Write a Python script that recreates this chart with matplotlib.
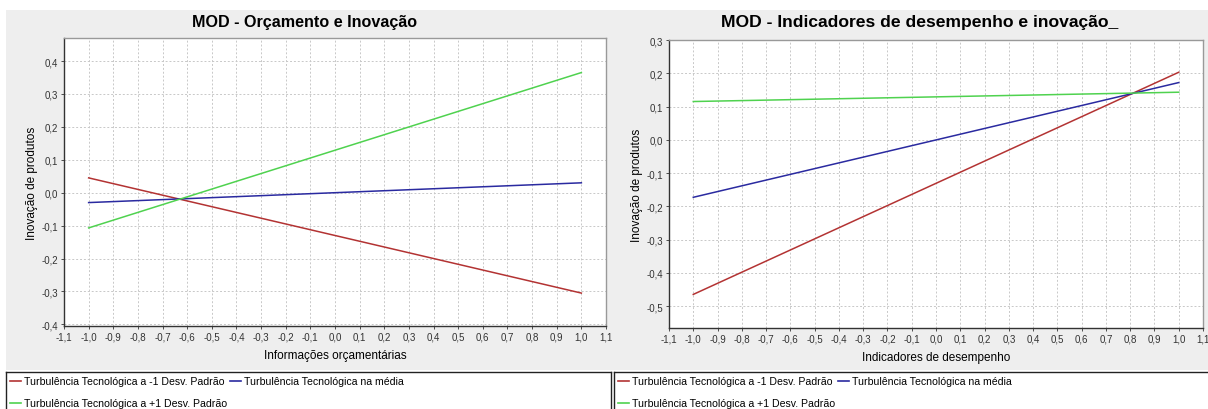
import matplotlib
matplotlib.use('Agg')
import matplotlib.pyplot as plt
from matplotlib.ticker import MultipleLocator, FuncFormatter
import numpy as np

plt.rcParams['font.family'] = ['Liberation Sans', 'DejaVu Sans']

# data: x = -1 and x = 1
x_pts = [-1.0, 1.0]
series_names = ['Turbulência Tecnológica a -1 Desv. Padrão',
                'Turbulência Tecnológica na média',
                'Turbulência Tecnológica a +1 Desv. Padrão']
series_colors = ['#b33333', '#2a2aa0', '#4fd24f']

orc_low = [0.045, -0.305]
orc_mid = [-0.030, 0.030]
orc_high = [-0.107, 0.365]

ind_low = [-0.465, 0.203]
ind_mid = [-0.173, 0.172]
ind_high = [0.115, 0.143]

W, H = 1208, 410

def px(x0, y0, x1, y1):
    # pixel box (top-left origin) -> figure fraction rect
    return [x0 / W, 1 - y1 / H, (x1 - x0) / W, (y1 - y0) / H]

fig = plt.figure(figsize=(W / 100, H / 100), dpi=100)

# grey panel behind both charts
bg = fig.add_axes(px(6, 11, W, 371), zorder=-5)
bg.set_facecolor('#eeeeee')
bg.set_xticks([])
bg.set_yticks([])
for s in bg.spines.values():
    s.set_visible(False)

comma = FuncFormatter(lambda v, p: ('%.1f' % v).replace('.', ',').replace('-0,0', '0,0'))


def make_chart(rect, title, title_x, title_size, xlabel, ylim, data):
    ax = fig.add_axes(rect)
    ax.set_facecolor('white')
    for vals, c in zip(data, series_colors):
        ax.plot(x_pts, vals, color=c, lw=1.1)
    ax.set_xlim(-1.1, 1.1)
    ax.set_ylim(*ylim)
    ax.xaxis.set_major_locator(MultipleLocator(0.1))
    ax.yaxis.set_major_locator(MultipleLocator(0.1))
    ax.xaxis.set_major_formatter(comma)
    ax.yaxis.set_major_formatter(comma)
    ax.grid(True, color='#c8c8c8', ls=(0, (2, 2)), lw=0.7)
    ax.tick_params(labelsize=7, length=2, width=0.6, colors='#333333', pad=2)
    for s in ax.spines.values():
        s.set_color('#999999')
        s.set_linewidth(1.0)
    ax.spines['left'].set_color('#333333')
    ax.spines['bottom'].set_color('#333333')
    fig.text(title_x / W, 1 - 23 / H, title, fontsize=title_size,
             fontweight='bold', ha='center', va='center')
    ax.set_xlabel(xlabel, fontsize=8.5, labelpad=5)
    ax.set_ylabel('Inovação de produtos', fontsize=8.5, labelpad=3)
    return ax


ax1 = make_chart(px(64, 39, 606, 327), 'MOD - Orçamento e Inovação', 305, 11.6,
                 'Informações orçamentárias', (-0.405, 0.47),
                 [orc_low, orc_mid, orc_high])
ax2 = make_chart(px(669, 41, 1203, 329), 'MOD - Indicadores de desempenho e inovação_', 920, 12.6,
                 'Indicadores de desempenho', (-0.566, 0.3),
                 [ind_low, ind_mid, ind_high])

# legend boxes
handles = [plt.Line2D([], [], color=c, lw=1.2) for c in series_colors]
order = [0, 2, 1]
for box in [px(6, 373, 611, 412), px(614, 373, 1210, 412)]:
    lax = fig.add_axes(box)
    lax.set_xticks([])
    lax.set_yticks([])
    for s in lax.spines.values():
        s.set_color('#222222')
        s.set_linewidth(1.0)
    lax.legend([handles[i] for i in order], [series_names[i] for i in order],
               ncol=2, loc='upper left', frameon=False, fontsize=7.6,
               handlelength=1.05, handletextpad=0.25, columnspacing=0.3,
               borderaxespad=0.0, borderpad=0.4, labelspacing=1.15)

fig.savefig('out.png', dpi=100)
